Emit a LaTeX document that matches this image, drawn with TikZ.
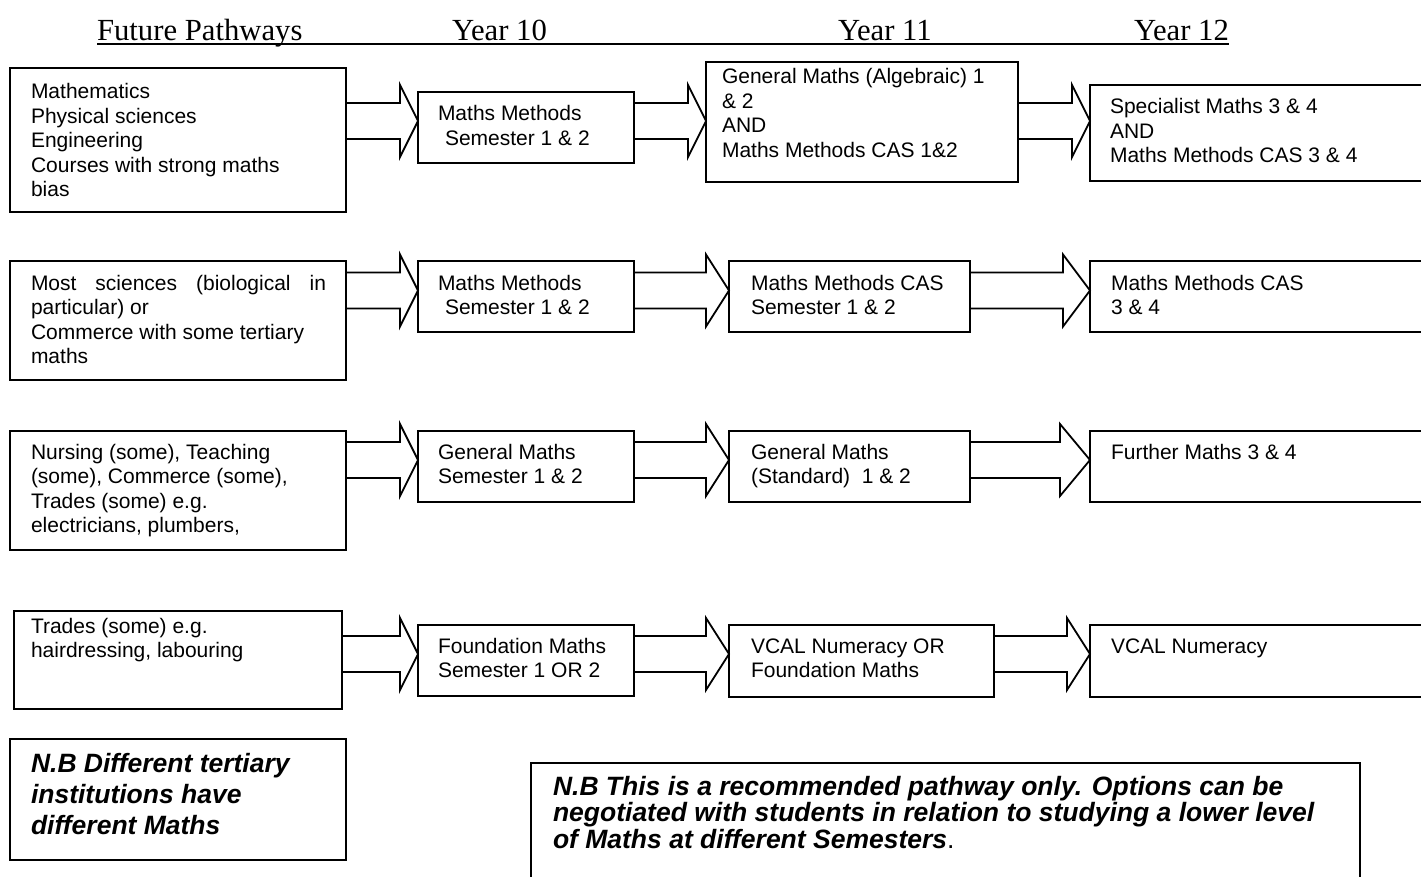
\documentclass[tikz,border=0pt]{standalone}
\usepackage{fontspec}
\setmainfont{Liberation Sans}
\newfontfamily\serifhead{Liberation Serif}
\usetikzlibrary{calc}
\tikzset{
  boxst/.style={draw, line width=1.8pt, rectangle, inner sep=0pt, outer sep=0pt},
  txt/.style={inner sep=0pt, outer sep=0pt, align=left, anchor=north west, font=\fontsize{21}{24.5}\selectfont},
  headst/.style={inner sep=0pt, outer sep=0pt, anchor=base west, font=\serifhead\fontsize{30.7}{36}\selectfont},
  noteone/.style={inner sep=0pt, outer sep=0pt, align=left, anchor=north west, font=\fontsize{26.5}{31}\selectfont\bfseries\itshape},
  notetwo/.style={inner sep=0pt, outer sep=0pt, align=left, anchor=north west, font=\fontsize{26.5}{26.7}\selectfont\bfseries\itshape},
  arrowst/.style={draw, line width=1.8pt, line join=miter},
  underst/.style={draw, line width=1.6pt},
}
% name, x1, y1, x2, y2, text x, first baseline, text
\newcommand\pbox[8]{%
  \node[boxst, anchor=north west, minimum width={(#4-#2)*1pt}, minimum height={(#5-#3)*1pt}] (#1) at (#2,#3) {};
  \node[txt] (#1t) at (#6,#7-16) {\rule{0pt}{16pt}#8};
}
% from node, to node, centre coordinate, head length
\newcommand\barrow[4]{%
  \draw[arrowst] ($(#1.east|-#3)+(0,-18)$) -- ($(#2.west|-#3)+(-#4,-18)$) -- ($(#2.west|-#3)+(-#4,-36)$)
    -- (#2.west|-#3) -- ($(#2.west|-#3)+(-#4,36)$) -- ($(#2.west|-#3)+(-#4,18)$) -- ($(#1.east|-#3)+(0,18)$) -- cycle;
}
\begin{document}
\begin{tikzpicture}[x=1pt, y=-1pt]
\useasboundingbox (0,0) rectangle (1421,877);
\clip (0,0) rectangle (1421,877);
\fill[white] (0,0) rectangle (1421,877);

% header
\node[headst] (h0) at (97,41) {Future Pathways};
\node[headst] (h1) at (452,41) {Year 10};
\node[headst] (h2) at (838,41) {Year 11};
\node[headst] (h3) at (1134,41) {Year 12};
\draw[underst] ($(h0.base west)+(0,3)$) -- ($(h3.base east)+(0,3)$);

% row centres
\coordinate (c1) at (0,121);
\coordinate (c2) at (0,290.5);
\coordinate (c3) at (0,460);
\coordinate (c4) at (0,654);

% row 1
\pbox{a1}{10}{68}{346}{212}{31}{99}{Mathematics\\Physical sciences\\Engineering\\Courses with strong maths\\bias}
\pbox{b1}{418}{92}{634}{163}{438}{121}{Maths Methods\\\hspace{7pt}Semester 1 \& 2}
\pbox{d1}{706}{62}{1018}{182}{722}{84}{General Maths (Algebraic) 1\\\& 2\\AND\\Maths Methods CAS 1\&2}
\pbox{e1}{1090}{85}{1440}{181}{1110}{114}{Specialist Maths 3 \& 4\\AND\\Maths Methods CAS 3 \& 4}
\barrow{a1}{b1}{c1}{18}
\barrow{b1}{d1}{c1}{18}
\barrow{d1}{e1}{c1}{18}

% row 2
\pbox{a2}{10}{261}{346}{380}{31}{290}{\makebox[295pt][s]{Most sciences (biological in}\\particular) or\\Commerce with some tertiary\\maths}
\pbox{b2}{418}{261}{634}{332}{438}{290}{Maths Methods\\\hspace{7pt}Semester 1 \& 2}
\pbox{d2}{729}{261}{970}{332}{751}{290}{Maths Methods CAS\\Semester 1 \& 2}
\pbox{e2}{1090}{261}{1440}{332}{1111}{290}{Maths Methods CAS\\3 \& 4}
\barrow{a2}{b2}{c2}{18}
\barrow{b2}{d2}{c2}{23}
\barrow{d2}{e2}{c2}{27}

% row 3
\pbox{a3}{10}{431}{346}{550}{31}{459}{Nursing (some), Teaching\\(some), Commerce (some),\\Trades (some) e.g.\\electricians, plumbers,}
\pbox{b3}{418}{431}{634}{502}{438}{459}{General Maths\\Semester 1 \& 2}
\pbox{d3}{729}{431}{970}{502}{751}{459}{General Maths\\(Standard)\ \ 1 \& 2}
\pbox{e3}{1090}{431}{1440}{502}{1111}{459}{Further Maths 3 \& 4}
\barrow{a3}{b3}{c3}{18}
\barrow{b3}{d3}{c3}{23}
\barrow{d3}{e3}{c3}{30}

% row 4
\pbox{a4}{14}{611}{342}{709}{31}{633}{Trades (some) e.g.\\hairdressing, labouring}
\pbox{b4}{418}{625}{634}{696}{438}{653}{Foundation Maths\\Semester 1 OR 2}
\pbox{d4}{729}{625}{994}{697}{751}{653}{VCAL Numeracy OR\\Foundation Maths}
\pbox{e4}{1090}{625}{1440}{697}{1111}{653}{VCAL Numeracy}
\barrow{a4}{b4}{c4}{18}
\barrow{b4}{d4}{c4}{23}
\barrow{d4}{e4}{c4}{23}

% notes
\node[boxst, anchor=north west, minimum width=336pt, minimum height=121pt] (n1) at (10,739) {};
\node[noteone] (n1t) at (31,772-20) {\rule{0pt}{20pt}N.B Different tertiary\\institutions have\\different Maths};
\node[boxst, anchor=north west, minimum width=829pt, minimum height=140pt] (n2) at (531,763) {};
\node[notetwo] (n2t) at (553,795-20) {\rule{0pt}{20pt}N.B This is a recommended pathway only. Options can be\\negotiated with students in relation to studying a lower level\\of Maths at different Semesters{\mdseries\upshape .}};
\end{tikzpicture}
\end{document}
